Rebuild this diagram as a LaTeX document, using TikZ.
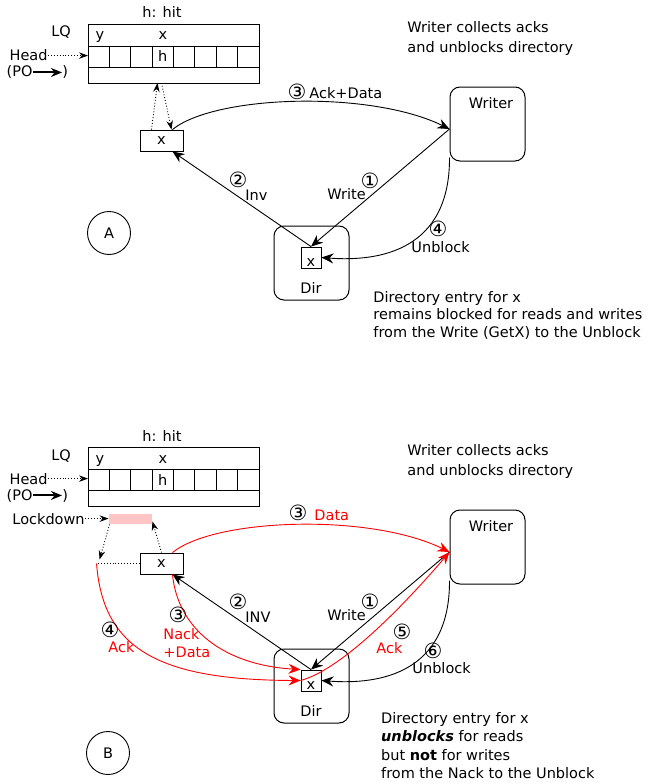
\documentclass[tikz,border=0pt]{standalone}
\usepackage{fontspec}
\setmainfont{DejaVu Sans}
\usetikzlibrary{arrows.meta}
\definecolor{lockpink}{RGB}{255,196,196}
\tikzset{
  lqbox/.style   = {draw, minimum width=171pt, minimum height=59pt, inner sep=0pt, outer sep=0pt},
  cell/.style    = {draw, minimum width=21.375pt, minimum height=21pt, inner sep=0pt, outer sep=0pt},
  entry/.style   = {draw, minimum width=43pt, minimum height=21pt, inner sep=0pt},
  ctrl/.style    = {draw, line width=1pt, rounded corners=10pt, minimum width=75pt, minimum height=74pt},
  dirent/.style  = {draw, minimum width=20pt, minimum height=21pt, inner sep=0pt,
                    text height=17pt, text depth=0pt},
  phase/.style   = {circle, draw, minimum size=43pt, inner sep=0pt},
  msg/.style     = {-{Stealth[length=12pt, width=10pt, inset=4pt]}, line width=0.9pt},
  rmsg/.style    = {msg, red},
  dots/.style    = {dotted, -{Stealth[length=9pt, width=6.5pt, inset=3pt]}, line width=0.9pt},
  poarrow/.style = {-{Stealth[length=11pt, width=9pt]}, line width=2pt},
  lbl/.style     = {anchor=base west, inner sep=0pt},
  num/.style     = {inner sep=0pt, font=\fontsize{21pt}{21pt}\selectfont},
  note/.style    = {anchor=north west, align=left, inner sep=0pt},
}
\begin{document}
\begin{tikzpicture}[x=1pt, y=-1pt, line width=0.9pt, font=\fontsize{14.5pt}{17.5pt}\selectfont]
  \useasboundingbox (0,0) rectangle (652,784);
  % load queue, writer and directory (same in both panels)
  \foreach \p/\dy in {A/0, B/423} {
    \node[lbl, anchor=base] (hit\p) at (162,{18+\dy}) {h: hit};
    \node[lbl, anchor=base] (lqname\p) at (61,{37+\dy}) {LQ};
    \node[lqbox] (lq\p) at (173.5,{53.5+\dy}) {};
    \foreach \i in {1,...,8}
      \node[cell] (cell\p\i) at ({88+21.375*(\i-0.5)},{56.5+\dy}) {};
    \node[lbl, anchor=base] (ly\p) at (100,{40+\dy}) {y};
    \node[lbl, anchor=base] (lx\p) at (162.8,{40+\dy}) {x};
    \node[lbl, anchor=base] (lh\p) at (162.8,{62+\dy}) {h};
    \node[lbl, anchor=base east] (head\p) at (48,{61+\dy}) {Head};
    \draw[dots] (head\p.east) -- (head\p.east -| cell\p1.west);
    \node[lbl, anchor=base east] (po\p) at (33,{77+\dy}) {(PO};
    \node[lbl] (pc\p) at (62,{77+\dy}) {)};
    \draw[poarrow] (po\p.east) -- (pc\p.west);
    \node[entry] (entry\p) at (161.5,{140.5+\dy}) {x};
    \node[ctrl] (writer\p) at (487.5,{124+\dy}) {};
    \node[lbl, anchor=base] (wname\p) at ([shift={(3.5,-16)}]writer\p.center) {Writer};
    \node[ctrl] (dir\p) at (311.5,{263+\dy}) {};
    \node[dirent] (dirx\p) at (311,{257.5+\dy}) {x};
    \node[lbl, anchor=base] (dname\p) at ([shift={(-0.5,30)}]dir\p.center) {Dir};
    \node[note, font=\fontsize{14.5pt}{19.4pt}\selectfont] (wnote\p) at (407,{21.5+\dy})
      {Writer collects acks\\and unblocks directory};
  }

  % panel A: GetX, Inv, Ack+Data, Unblock
  \node[phase] (phaseA) at (109,233) {A};
  \coordinate (wA) at ([yshift=-5pt]writerA.west);
  \coordinate (uA) at ([yshift=4pt]writerA.south west);
  \draw[msg] (wA) -- (dirxA.north);
  \draw[msg] (dirxA.north) -- (entryA.-45);
  \draw[msg] (entryA.45) .. controls (215,95) and (370,90) .. (wA);
  \draw[msg] (uA) .. controls (450,250) and (380,262) .. (dirxA.east);
  \draw[dots] ([xshift=-10pt]entryA.north) -- ([xshift=-16pt]lqA.south);
  \draw[dots] ([xshift=-12pt]lqA.south) -- ([xshift=10pt]entryA.north);
  \node[num] (n3A) at (297,92) {③};
  \node[lbl] (ackdataA) at (309,98) {Ack+Data};
  \node[lbl] (writeA) at (327,199) {Write};
  \node[num] (n1A) at (370,180.5) {①};
  \node[num] (n2A) at (238,180) {②};
  \node[lbl] (invA) at (245,200) {Inv};
  \node[num] (n4A) at (438,229) {④};
  \node[lbl] (unblockA) at (411,252) {Unblock};
  \node[note] (dnoteA) at (373,291)
    {Directory entry for x\\remains blocked for reads and writes\\from the Write (GetX) to the Unblock};

  % panel B: lockdown, Nack+Data and early unblock
  \node[phase] (phaseB) at (108,753) {B};
  \node[fill=lockpink, minimum width=43pt, minimum height=10pt, inner sep=0pt] (lock) at (130.5,519) {};
  \node[lbl] (lockdown) at (12,524) {Lockdown};
  \draw[dots] (lockdown.east) -- (lockdown.east -| lock.west);
  \coordinate (ackB) at ([xshift=-43pt]entryB.west);
  \draw[dotted] (entryB.west) -- (ackB);
  \draw[dots] ([xshift=1pt]lock.south west) -- ([shift={(3,-4)}]ackB);
  \draw[dots] (entryB.north) -- ([yshift=3pt]lock.south east);
  \coordinate (wB) at ([yshift=-5pt]writerB.west);
  \coordinate (uB) at ([yshift=4pt]writerB.south west);
  \draw[msg] (wB) -- (dirxB.north);
  \draw[msg] (dirxB.north) -- (entryB.-45);
  \draw[rmsg] (entryB.45) .. controls (215,518) and (370,513) .. (wB);
  \draw[rmsg] (entryB.-45) .. controls (178,630) and (225,665) .. (dirxB.north west);
  \draw[rmsg] (ackB) .. controls (103,650) and (160,680) .. (dirxB.west);
  \draw[rmsg] (dirxB.west) .. controls (340,670) and (400,610) .. (wB);
  \draw[msg] (uB) .. controls (450,673) and (380,685) .. (dirxB.east);
  \node[num] (n3B) at (298,513) {③};
  \node[lbl, red] (dataB) at (314,520) {Data};
  \node[lbl] (writeB) at (327,620) {Write};
  \node[num] (n1B) at (370,602) {①};
  \node[num] (n5B) at (402,632) {⑤};
  \node[lbl, red] (ackwB) at (376,653) {Ack};
  \node[num] (n6B) at (433,651) {⑥};
  \node[lbl] (unblockB) at (412,673) {Unblock};
  \node[num] (n2B) at (238,602) {②};
  \node[lbl] (invB) at (245,622) {INV};
  \node[num] (n3bB) at (178,615) {③};
  \node[note, red, font=\fontsize{14.5pt}{18pt}\selectfont] (nackB) at (163,628) {Nack\\+Data};
  \node[num] (n4B) at (110,630) {④};
  \node[lbl, red] (ackdB) at (108,652) {Ack};
  \node[note, font=\fontsize{14.5pt}{18.5pt}\selectfont] (dnoteB) at (380.7,711.6)
    {Directory entry for x\\\textbf{\textit{unblocks}} for reads\\but \textbf{not} for writes\\from the Nack to the Unblock};
\end{tikzpicture}
\end{document}
